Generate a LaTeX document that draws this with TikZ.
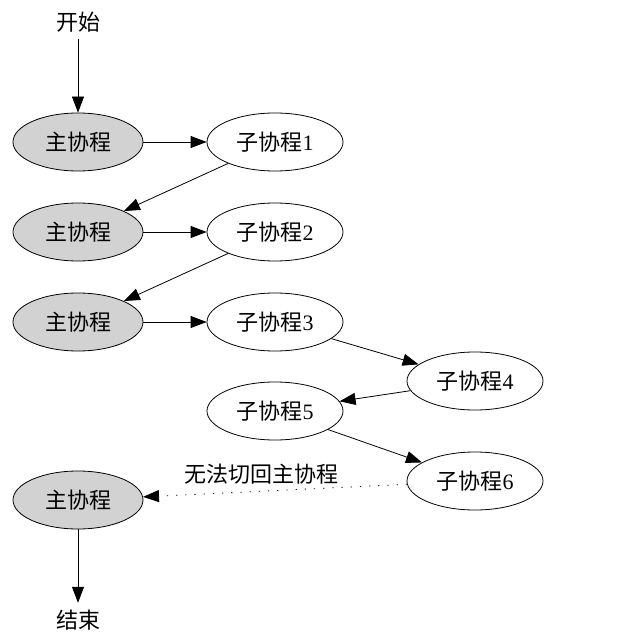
\documentclass[tikz,border=0pt]{standalone}
\usepackage{fontspec}
\setmainfont{Liberation Serif}
\newfontfamily\cjk{Noto Sans CJK SC}
\usetikzlibrary{shapes.geometric,arrows.meta}

\begin{document}
\begin{tikzpicture}[x=0.5pt, y=-0.5pt, font=\fontsize{11}{13}\selectfont\cjk,
  m/.style={ellipse, draw, fill=gray!35, minimum width=65pt, minimum height=29pt, inner sep=0pt},
  s/.style={ellipse, draw, minimum width=68pt, minimum height=29pt, inner sep=0pt},
  a/.style={-{Triangle[length=8pt,width=6pt]}, thin}]
  \useasboundingbox (0,0) rectangle (641,641);
  \node (start) at (78,22) {开始};
  \node[m] (M1) at (78,142) {主协程};
  \node[s] (S1) at (275,142) {子协程\rmfamily 1};
  \node[m] (M2) at (78,232) {主协程};
  \node[s] (S2) at (275,232) {子协程\rmfamily 2};
  \node[m] (M3) at (78,322) {主协程};
  \node[s] (S3) at (275,322) {子协程\rmfamily 3};
  \node[s] (S4) at (475,381) {子协程\rmfamily 4};
  \node[s] (S5) at (275,411) {子协程\rmfamily 5};
  \node[s] (S6) at (475,481) {子协程\rmfamily 6};
  \node[m] (M4) at (78,500) {主协程};
  \node (end) at (78,620) {结束};

  \draw[a] (start) -- (M1);
  \draw[a] (M1) -- (S1);
  \draw[a] (S1) -- (M2);
  \draw[a] (M2) -- (S2);
  \draw[a] (S2) -- (M3);
  \draw[a] (M3) -- (S3);
  \draw[a] (S3) -- (S4);
  \draw[a] (S4) -- (S5);
  \draw[a] (S5) -- (S6);
  \draw[a, dash pattern=on 0.6pt off 4pt] (S6) -- node[above, pos=0.55] {无法切回主协程} (M4);
  \draw[a] (M4) -- (end);
\end{tikzpicture}
\end{document}
